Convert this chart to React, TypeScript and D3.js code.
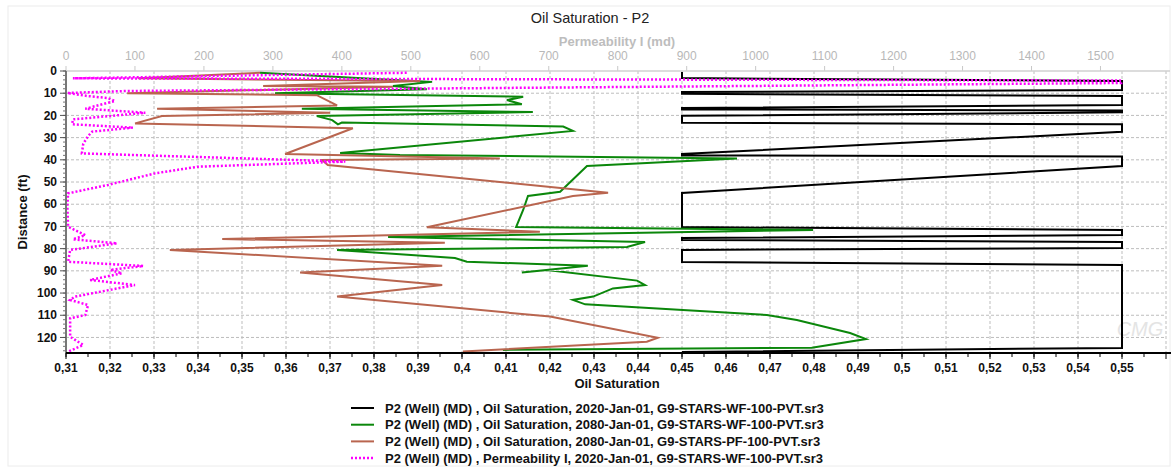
import React from 'react';
import * as d3 from 'd3';

// [oil saturation, distance ft]
const wf2020 = [
  [0.45, 0.5], [0.45, 3.2], [0.55, 4.5], [0.55, 8.6], [0.45, 9.5], [0.45, 10.3], [0.55, 11.3],
  [0.55, 15.3], [0.45, 16.7], [0.45, 17.3], [0.55, 17.8], [0.55, 18.6], [0.45, 20.2], [0.45, 23.3],
  [0.55, 24.0], [0.55, 27.4], [0.45, 37.4], [0.45, 38.0], [0.55, 38.5], [0.55, 42.8], [0.45, 54.9],
  [0.45, 70.3], [0.55, 71.6], [0.55, 73.9], [0.45, 75.2], [0.45, 76.1], [0.55, 77.0], [0.55, 79.7],
  [0.45, 80.6], [0.45, 86.0], [0.55, 87.4], [0.55, 124.7], [0.45, 126.5],
];

const wf2080 = [
  [0.3541, 0.8], [0.3932, 4.9], [0.3843, 6.8], [0.392, 8.2], [0.3575, 10.0], [0.4139, 11.6],
  [0.4102, 13.1], [0.4136, 15.0], [0.3636, 17.0], [0.4161, 18.5], [0.367, 20.3], [0.3705, 22.1],
  [0.3718, 24.0], [0.3727, 23.2], [0.423, 25.0], [0.4252, 27.0], [0.3723, 36.9], [0.3859, 37.8],
  [0.4625, 39.4], [0.4284, 42.8], [0.4223, 54.4], [0.415, 56.3], [0.4139, 62.6], [0.4123, 70.3],
  [0.4798, 71.6], [0.3832, 74.8], [0.4416, 77.0], [0.4375, 79.3], [0.3716, 80.6], [0.3984, 84.2],
  [0.4011, 85.9], [0.4286, 87.7], [0.4136, 90.8], [0.4193, 89.6], [0.4398, 94.4], [0.4416, 96.4],
  [0.4343, 97.9], [0.4298, 101.6], [0.4252, 103.1], [0.428, 105.1], [0.4502, 107.6], [0.4693, 109.9],
  [0.4761, 112.1], [0.4882, 118.0], [0.4918, 120.7], [0.4795, 124.6], [0.4093, 125.6],
];

const pf2080 = [
  [0.3541, 0.8], [0.3264, 3.3], [0.3905, 4.5], [0.3548, 6.8], [0.3843, 7.1], [0.3239, 10.0],
  [0.367, 10.9], [0.3716, 15.5], [0.3307, 17.0], [0.37, 18.8], [0.3318, 20.3], [0.3257, 23.6],
  [0.3752, 25.8], [0.3598, 37.4], [0.4086, 39.4], [0.3682, 40.1], [0.3695, 42.3], [0.4332, 54.8],
  [0.4252, 56.3], [0.392, 70.4], [0.4177, 72.4], [0.3455, 75.7], [0.3961, 77.3], [0.3336, 80.6],
  [0.3955, 87.7], [0.3632, 90.8], [0.3955, 96.4], [0.3716, 101.6], [0.42, 110.6], [0.4445, 120.1],
  [0.442, 121.9], [0.4002, 126.3],
];

// [permeability md, distance ft]
const perm2020 = [
  [494, 0.8], [10, 3.3], [1530, 4.3], [1530, 5.4], [88, 9.0], [2, 9.9], [32, 11.3], [61, 12.2],
  [71, 13.5], [28, 17.0], [115, 18.8], [10, 21.8], [9, 24.0], [97, 25.5], [38, 27.3], [32, 29.3],
  [25, 32.8], [23, 37.1], [405, 40.8], [191, 43.1], [129, 46.1], [61, 51.3], [3, 55.1], [2, 61.1],
  [3, 70.1], [28, 73.9], [10, 75.8], [74, 77.6], [6, 80.6], [3, 85.9], [112, 87.8], [64, 89.6],
  [81, 91.1], [35, 94.1], [100, 96.4], [13, 101.6], [6, 103.1], [32, 105.4], [28, 109.9], [6, 111.4],
  [6, 119.7], [25, 123.4], [3, 126.4],
];

const satTicks = d3.range(31, 57).map(v => v / 100);
const permTicks = d3.range(0, 1600, 100);
const depthTicks = d3.range(0, 130, 10);

const legendLabels = [
  'P2 (Well) (MD) , Oil Saturation, 2020-Jan-01, G9-STARS-WF-100-PVT.sr3',
  'P2 (Well) (MD) , Oil Saturation, 2080-Jan-01, G9-STARS-WF-100-PVT.sr3',
  'P2 (Well) (MD) , Oil Saturation, 2080-Jan-01, G9-STARS-PF-100-PVT.sr3',
  'P2 (Well) (MD) , Permeability I, 2020-Jan-01, G9-STARS-WF-100-PVT.sr3',
];

const FONT = '"Liberation Sans", Arial, sans-serif';
const W = 1171, H = 467;
const L = 66, R = 1166, T = 71, B = 353;

const fmt = d3.formatLocale({ decimal: ',', thousands: '.', grouping: [3], currency: ['', ''] }).format('.2~f');

export default function App() {
  const x = d3.scaleLinear().domain([0.31, 0.56]).range([L, R]);
  const xTop = d3.scaleLinear().domain([0, 1595]).range([L, R]);
  const y = d3.scaleLinear().domain([0, 127]).range([T, B]);

  const satLine = d3.line<number[]>().x(d => x(d[0])).y(d => y(d[1]));
  const permLine = d3.line<number[]>().x(d => xTop(d[0])).y(d => y(d[1]));

  const series = [
    { d: satLine(wf2020), color: '#000000', dash: undefined, w: 2 },
    { d: satLine(wf2080), color: '#0b870b', dash: undefined, w: 2 },
    { d: satLine(pf2080), color: '#b9654f', dash: undefined, w: 2 },
    { d: permLine(perm2020), color: '#ff00ff', dash: '2 2', w: 2.5 },
  ];

  const minorSat = d3.range(0, 50).map(i => 0.31 + i * 0.005);
  const minorDepth = d3.range(0, 127, 2);

  return (
    <svg width={W} height={H} style={{ position: 'absolute', left: 0, top: 0, background: '#fff' }} fontFamily={FONT}>
      <rect x={8} y={6} width={1162} height={460} fill="#fff" stroke="#ececec" />
      <text x={590} y={23} textAnchor="middle" fontSize={14.5} fill="#222">Oil Saturation - P2</text>

      {/* top axis: permeability */}
      <text x={617} y={46} textAnchor="middle" fontSize={13} fontWeight="bold" fill="#bdbdbd">Permeability I (md)</text>
      {permTicks.map(t => (
        <g key={'pt' + t}>
          <text x={xTop(t)} y={60} textAnchor="middle" fontSize={12} fill="#b8b8b8">{t}</text>
          <line x1={xTop(t)} x2={xTop(t)} y1={T - 5} y2={T} stroke="#c8c8c8" />
        </g>
      ))}

      {/* grid */}
      {satTicks.slice(1).map(t => (
        <line key={'gx' + t} x1={x(t)} x2={x(t)} y1={T} y2={B} stroke="#bdbdbd" strokeDasharray="3 2" />
      ))}
      {depthTicks.slice(1).map(t => (
        <line key={'gy' + t} x1={L} x2={R} y1={y(t)} y2={y(t)} stroke="#bdbdbd" strokeDasharray="3 2" />
      ))}
      <line x1={L} x2={R + 4} y1={T} y2={T} stroke="#d0d0d0" strokeWidth={1.5} />

      <text x={1140} y={336} textAnchor="middle" fontSize={20} fontStyle="italic" fill="#e4e4e4">CMG</text>

      {/* series */}
      {series.map((s, i) => (
        <path key={'s' + i} d={s.d || ''} fill="none" stroke={s.color} strokeWidth={s.w}
          strokeDasharray={s.dash} strokeLinejoin="miter" />
      ))}

      {/* left axis */}
      <line x1={L} x2={L} y1={T} y2={B} stroke="#777" strokeWidth={2} />
      {minorDepth.map(t => (
        <line key={'md' + t} x1={L - 3} x2={L} y1={y(t)} y2={y(t)} stroke="#777" />
      ))}
      {depthTicks.map(t => (
        <g key={'yt' + t}>
          <line x1={L - 6} x2={L} y1={y(t)} y2={y(t)} stroke="#555" />
          <text x={57} y={y(t)} dy="0.35em" textAnchor="end" fontSize={12} fontWeight="bold" fill="#111">{t}</text>
        </g>
      ))}
      <text transform={`translate(27,${(T + B) / 2}) rotate(-90)`} textAnchor="middle" fontSize={13} fontWeight="bold" fill="#111">Distance (ft)</text>

      {/* bottom axis */}
      <line x1={L} x2={R + 5} y1={B} y2={B} stroke="#000" strokeWidth={2} />
      {minorSat.map(t => (
        <line key={'ms' + t} x1={x(t)} x2={x(t)} y1={B} y2={B + 4} stroke="#000" />
      ))}
      {satTicks.map((t, i) => (
        <g key={'xt' + t}>
          <line x1={x(t)} x2={x(t)} y1={B} y2={B + 6} stroke="#000" />
          {i < satTicks.length - 1 && (
            <text x={x(t)} y={372} textAnchor="middle" fontSize={12} fontWeight="bold" fill="#111">{fmt(t)}</text>
          )}
        </g>
      ))}
      <text x={617} y={388} textAnchor="middle" fontSize={13} fontWeight="bold" fill="#111">Oil Saturation</text>

      {/* legend */}
      {legendLabels.map((lab, i) => {
        const ly = 408 + i * 16.7;
        const s = series[i];
        return (
          <g key={'lg' + i}>
            <line x1={351} x2={374} y1={ly} y2={ly} stroke={s.color} strokeWidth={s.w} strokeDasharray={s.dash} />
            <text x={385} y={ly} dy="0.35em" fontSize={13} fontWeight="bold" fill="#111">{lab}</text>
          </g>
        );
      })}
    </svg>
  );
}
